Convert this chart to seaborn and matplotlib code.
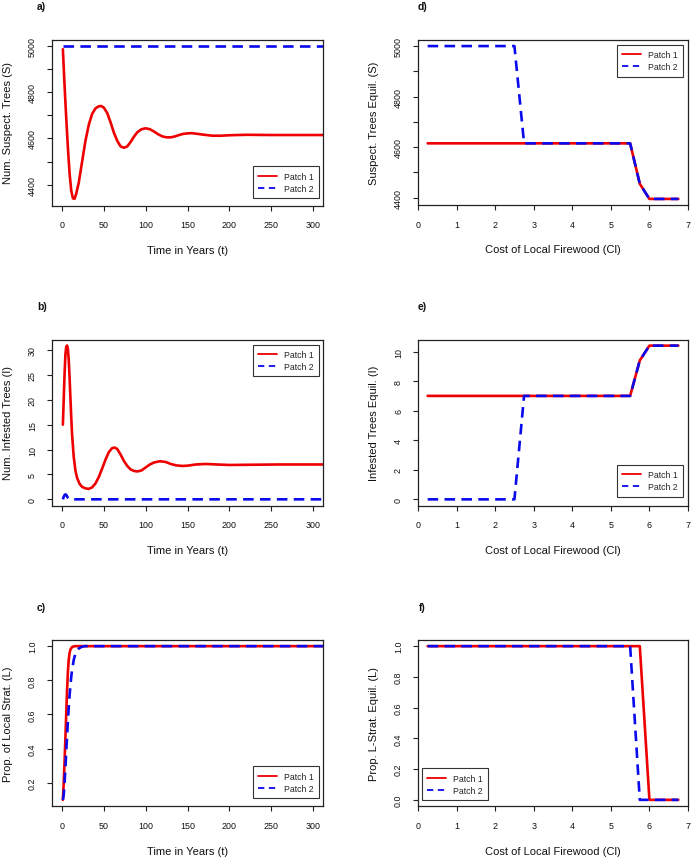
import matplotlib
matplotlib.use("Agg")
import matplotlib.pyplot as plt
from matplotlib.lines import Line2D
import seaborn as sns

# ---------------- data ----------------
# Panel a: susceptible trees over time
t_a = [1, 3, 5, 7, 9, 11, 13, 15, 17, 20, 24, 28, 32, 36, 40, 44, 47, 50, 54, 58,
       62, 66, 70, 74, 78, 82, 86, 90, 95, 100, 105, 110, 115, 120, 125, 130, 135,
       140, 145, 150, 155, 160, 170, 180, 190, 200, 220, 250, 300, 330]
S1 = [4985, 4830, 4690, 4560, 4450, 4375, 4342, 4340, 4362, 4410, 4500, 4590, 4660,
      4706, 4730, 4739, 4740, 4733, 4710, 4670, 4625, 4590, 4566, 4560, 4566, 4585,
      4608, 4627, 4640, 4644, 4640, 4630, 4618, 4609, 4605, 4605, 4609, 4615, 4620,
      4622, 4623, 4621, 4616, 4612, 4612, 4614, 4616, 4615, 4615, 4615]
t_a2 = [1, 330]
S2 = [5000, 5000]

# Panel b: infested trees over time
t_b = [1, 2, 3, 4, 5, 6, 7, 8, 9, 10, 11, 12, 14, 16, 18, 21, 24, 28, 32, 36, 40,
       44, 48, 52, 56, 60, 63, 66, 70, 74, 78, 82, 86, 90, 95, 100, 105, 110, 117,
       124, 130, 137, 145, 152, 160, 172, 185, 200, 230, 260, 330]
I1 = [15, 20, 25, 29, 30.6, 30.9, 30.2, 28, 24.5, 20.5, 16.5, 13, 8.5, 5.8, 4.3, 3.1,
      2.5, 2.2, 2.1, 2.4, 3.2, 4.5, 6.2, 8.0, 9.5, 10.3, 10.4, 10.1, 9.0, 7.7, 6.7,
      6.0, 5.7, 5.6, 5.8, 6.4, 7.0, 7.4, 7.65, 7.5, 7.1, 6.8, 6.7, 6.8, 7.0, 7.1,
      7.0, 6.9, 6.95, 7.0, 7.0]
t_b2 = [1, 2, 3, 4, 5, 6, 7, 8, 10, 15, 330]
I2 = [0, 0.5, 0.85, 1.0, 0.9, 0.6, 0.3, 0.1, 0.02, 0, 0]

# Panel c: proportion local strategy over time
t_c1 = [1, 2, 3, 4, 5, 6, 7, 8, 9, 10, 12, 15, 330]
L1 = [0.1, 0.2, 0.32, 0.46, 0.6, 0.74, 0.85, 0.92, 0.96, 0.98, 0.995, 1.0, 1.0]
t_c2 = [1, 2, 3, 4, 5, 6, 7, 8, 9, 10, 11, 12, 14, 16, 18, 20, 23, 27, 330]
L2 = [0.1, 0.13, 0.2, 0.28, 0.38, 0.47, 0.56, 0.64, 0.71, 0.77, 0.82, 0.86, 0.92,
      0.955, 0.975, 0.986, 0.995, 1.0, 1.0]

# Panels d-f: equilibria vs cost of local firewood
cost = [0.25, 0.5, 0.75, 1.0, 1.25, 1.5, 1.75, 2.0, 2.25, 2.5, 2.75, 3.0, 3.25, 3.5,
        3.75, 4.0, 4.25, 4.5, 4.75, 5.0, 5.25, 5.5, 5.75, 6.0, 6.25, 6.5, 6.75]
Seq1 = [4615, 4615, 4615, 4615, 4615, 4615, 4615, 4615, 4615, 4615, 4615, 4615, 4615,
        4615, 4615, 4615, 4615, 4615, 4615, 4615, 4615, 4615, 4455, 4395, 4395, 4395, 4395]
Seq2 = [5000, 5000, 5000, 5000, 5000, 5000, 5000, 5000, 5000, 5000, 4615, 4615, 4615,
        4615, 4615, 4615, 4615, 4615, 4615, 4615, 4615, 4615, 4455, 4395, 4395, 4395, 4395]
Ieq1 = [7, 7, 7, 7, 7, 7, 7, 7, 7, 7, 7, 7, 7, 7, 7, 7, 7, 7, 7, 7, 7, 7,
        9.4, 10.4, 10.4, 10.4, 10.4]
Ieq2 = [0, 0, 0, 0, 0, 0, 0, 0, 0, 0, 7, 7, 7, 7, 7, 7, 7, 7, 7, 7, 7, 7,
        9.4, 10.4, 10.4, 10.4, 10.4]
Leq1 = [1, 1, 1, 1, 1, 1, 1, 1, 1, 1, 1, 1, 1, 1, 1, 1, 1, 1, 1, 1, 1, 1, 1,
        0, 0, 0, 0]
Leq2 = [1, 1, 1, 1, 1, 1, 1, 1, 1, 1, 1, 1, 1, 1, 1, 1, 1, 1, 1, 1, 1, 1,
        0, 0, 0, 0, 0]

labels_series = ["Patch 1", "Patch 2"]
time_ticks = [0, 50, 100, 150, 200, 250, 300]
cost_ticks = [0, 1, 2, 3, 4, 5, 6, 7]

# ---------------- style ----------------
sns.set_theme(style="ticks")
plt.rcParams["font.family"] = ["Liberation Sans", "DejaVu Sans"]

RED = "#EE0000"
BLUE = "#0A0AEE"
LW = 1.9
DASH = (0, (4.0, 2.4))

W, H = 693, 862
fig = plt.figure(figsize=(W / 100, H / 100), dpi=100)


def make_ax(left, right, top, bottom):
    return fig.add_axes([left / W, 1 - bottom / H, (right - left) / W, (bottom - top) / H])


ax_a = make_ax(52, 323, 40.5, 206.5)
ax_b = make_ax(52, 323, 340.5, 506.5)
ax_c = make_ax(52, 323, 641, 807)
ax_d = make_ax(418, 688, 41, 206)
ax_e = make_ax(418, 688, 340.5, 506.5)
ax_f = make_ax(418, 688, 641, 807)


def draw(ax, x1, y1, x2, y2):
    sns.lineplot(x=x1, y=y1, ax=ax, color=RED, linewidth=LW, sort=False,
                 estimator=None, legend=False)
    sns.lineplot(x=x2, y=y2, ax=ax, color=BLUE, linewidth=LW, sort=False,
                 estimator=None, legend=False, linestyle=DASH)


def style(ax, xlim, xticks, ylim, yticks, ylabels, xlabel, ylabel):
    ax.set_xlim(*xlim)
    ax.set_ylim(*ylim)
    ax.set_xticks(xticks)
    ax.set_xticklabels([str(v) for v in xticks])
    ax.set_yticks(yticks)
    ax.set_yticklabels(ylabels)
    for sp in ax.spines.values():
        sp.set_visible(True)
        sp.set_linewidth(0.9)
        sp.set_color("#222222")
    ax.tick_params(axis="both", direction="out", length=3.6, width=0.8,
                   colors="#222222", labelsize=6.4, pad=7.2, labelcolor="#111111")
    ax.tick_params(axis="y", labelrotation=90)
    for lab in ax.get_yticklabels():
        lab.set_va("center")
    ax.set_xlabel(xlabel, fontsize=8, color="#111111")
    ax.set_ylabel(ylabel, fontsize=8, color="#111111")
    ax.xaxis.set_label_coords(0.5, -0.238)
    ax.yaxis.set_label_coords(-0.145, 0.5)
    ax.grid(False)


def legend(ax, x0, y0, loc):
    handles = [Line2D([], [], color=RED, lw=1.3),
               Line2D([], [], color=BLUE, lw=1.3, linestyle=(0, (3.5, 2.5)))]
    ax.legend(handles, labels_series, loc=loc,
              bbox_to_anchor=(x0 / W, 1 - y0 / H), bbox_transform=fig.transFigure,
              fontsize=6.3, frameon=True, fancybox=False, framealpha=1,
              edgecolor="#333333", borderaxespad=0, borderpad=0.6,
              handlelength=2.2, handletextpad=0.8, labelspacing=0.35)
    ax.get_legend().get_frame().set_linewidth(0.8)


draw(ax_a, t_a, S1, t_a2, S2)
draw(ax_b, t_b, I1, t_b2, I2)
draw(ax_c, t_c1, L1, t_c2, L2)
draw(ax_d, cost, Seq1, cost, Seq2)
draw(ax_e, cost, Ieq1, cost, Ieq2)
draw(ax_f, cost, Leq1, cost, Leq2)

s_ticks = [4400, 4500, 4600, 4700, 4800, 4900, 5000]
s_labels = ["4400", "", "4600", "", "4800", "", "5000"]
tx = "Time in Years (t)"
cx = "Cost of Local Firewood (Cl)"

style(ax_a, (-12, 312), time_ticks, (4311, 5027), s_ticks, s_labels, tx,
      "Num. Suspect. Trees (S)")
style(ax_b, (-12, 312), time_ticks, (-1.24, 32.1), [0, 5, 10, 15, 20, 25, 30],
      ["0", "5", "10", "15", "20", "25", "30"], tx, "Num. Infested Trees (I)")
style(ax_c, (-12, 312), time_ticks, (0.064, 1.036), [0.2, 0.4, 0.6, 0.8, 1.0],
      ["0.2", "0.4", "0.6", "0.8", "1.0"], tx, "Prop. of Local Strat. (L)")
style(ax_d, (0, 7), cost_ticks, (4371, 5024), s_ticks, s_labels, cx,
      "Suspect. Trees Equil. (S)")
style(ax_e, (0, 7), cost_ticks, (-0.416, 10.816), [0, 2, 4, 6, 8, 10],
      ["0", "2", "4", "6", "8", "10"], cx, "Infested Trees Equil. (I)")
style(ax_f, (0, 7), cost_ticks, (-0.04, 1.04), [0.0, 0.2, 0.4, 0.6, 0.8, 1.0],
      ["0.0", "0.2", "0.4", "0.6", "0.8", "1.0"], cx, "Prop. L-Strat. Equil. (L)")

legend(ax_a, 319, 199, "lower right")
legend(ax_b, 319, 345.5, "upper right")
legend(ax_c, 319, 799, "lower right")
legend(ax_d, 683, 46, "upper right")
legend(ax_e, 683, 497.5, "lower right")
legend(ax_f, 422, 801, "lower left")

for txt, x, y in [("a)", 37, 7.5), ("b)", 37, 307.5), ("c)", 37, 608),
                  ("d)", 418, 7.5), ("e)", 418, 307.5), ("f)", 419, 608)]:
    fig.text(x / W, 1 - y / H, txt, ha="left", va="center", fontsize=7.5,
             fontweight="bold", color="#111111")

fig.savefig("out.png", dpi=100)
